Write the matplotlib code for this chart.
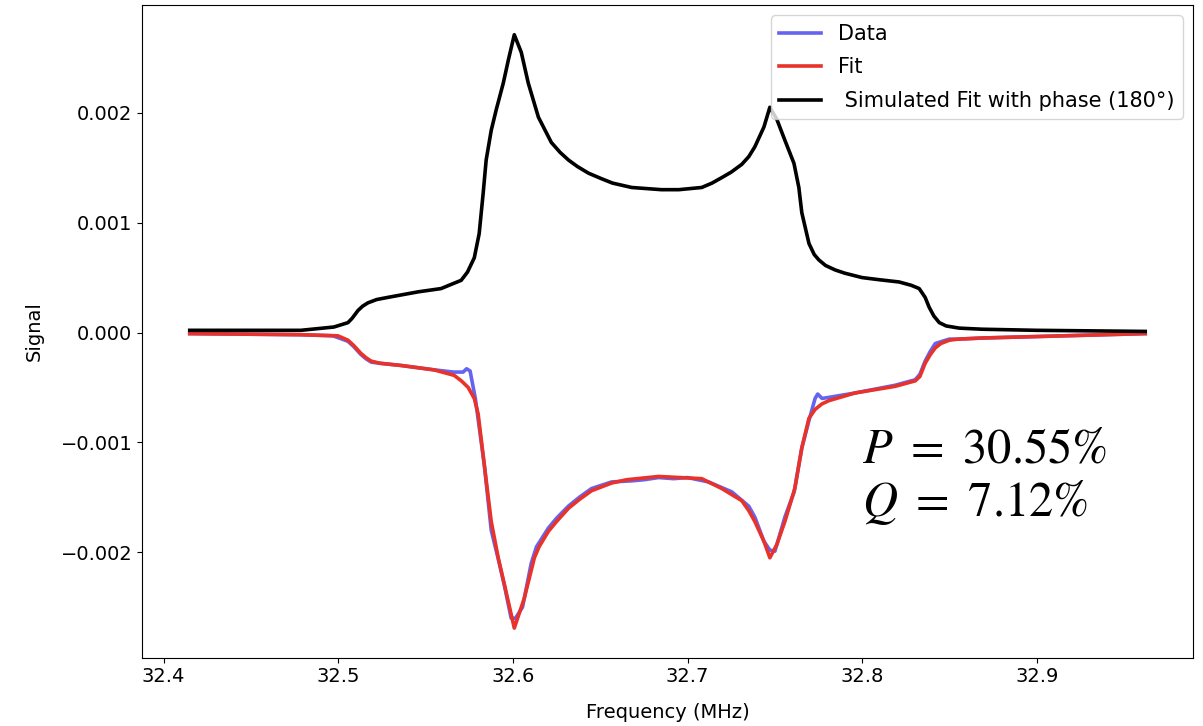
import numpy as np
import matplotlib.pyplot as plt

plt.rcParams['mathtext.fontset'] = 'stix'

# Simulated fit with phase 180 deg (black)
sim_f = [32.415, 32.4786, 32.4975, 32.5056, 32.508, 32.5113, 32.514, 32.5170,
         32.522, 32.5285, 32.5457, 32.5589, 32.565, 32.5704, 32.574, 32.5779,
         32.5807, 32.5830, 32.5847, 32.5876, 32.5905, 32.5945, 32.5974, 32.6008,
         32.6048, 32.6088, 32.6146, 32.6220, 32.627, 32.6318, 32.637, 32.6433,
         32.6507, 32.657, 32.668, 32.685, 32.695, 32.7081, 32.714, 32.7196,
         32.725, 32.7310, 32.735, 32.7385, 32.7437, 32.7471, 32.7511, 32.7557,
         32.7609, 32.7637, 32.7654, 32.7695, 32.7725, 32.7752, 32.779, 32.7844,
         32.790, 32.7999, 32.810, 32.8211, 32.828, 32.8326, 32.836, 32.8383,
         32.841, 32.8441, 32.848, 32.8555, 32.8687, 32.900, 32.962]
sim_s = [0.00002, 0.00002, 0.00005, 0.00009, 0.00013, 0.00020, 0.00024, 0.00027,
         0.00030, 0.00032, 0.00037, 0.00040, 0.00044, 0.000475, 0.00055, 0.00068,
         0.00090, 0.00127, 0.00157, 0.00184, 0.00203, 0.00227, 0.00248, 0.00271,
         0.00255, 0.00227, 0.00196, 0.00173, 0.00164, 0.00157, 0.00151, 0.00145,
         0.00140, 0.00136, 0.00132, 0.00130, 0.00130, 0.00132, 0.00136, 0.00141,
         0.00146, 0.00153, 0.00160, 0.00169, 0.00187, 0.00205, 0.00194, 0.00175,
         0.00154, 0.00132, 0.00109, 0.00081, 0.00071, 0.00066, 0.00061, 0.00057,
         0.00054, 0.00050, 0.00048, 0.00046, 0.00043, 0.00040, 0.00032, 0.00023,
         0.00015, 0.00009, 0.00006, 0.00004, 0.00003, 0.00002, 0.00001]

# Fit (red)
fit_f = [32.415, 32.4786, 32.4998, 32.5056, 32.509, 32.5130, 32.516, 32.5188,
         32.524, 32.5360, 32.5549, 32.5664, 32.5705, 32.5744, 32.5779, 32.5801,
         32.5836, 32.5876, 32.5916, 32.5951, 32.6008, 32.6065, 32.6123, 32.615,
         32.6203, 32.625, 32.6318, 32.638, 32.6450, 32.6565, 32.665, 32.6834,
         32.7081, 32.7196, 32.7310, 32.735, 32.7385, 32.7437, 32.7471, 32.7511,
         32.7557, 32.7614, 32.7654, 32.7695, 32.773, 32.7769, 32.7809, 32.7959,
         32.8188, 32.8303, 32.833, 32.8360, 32.839, 32.8418, 32.845, 32.8498,
         32.855, 32.8687, 32.962]
fit_s = [-0.00001, -0.00002, -0.00003, -0.00007, -0.00012, -0.00019, -0.00023, -0.00026,
         -0.00028, -0.00030, -0.00034, -0.00039, -0.00044, -0.00050, -0.00060, -0.00074,
         -0.00120, -0.00172, -0.00205, -0.00229, -0.00269, -0.00242, -0.00205, -0.00195,
         -0.00181, -0.00172, -0.00160, -0.00152, -0.00144, -0.00137, -0.00134, -0.00131,
         -0.00133, -0.00142, -0.00153, -0.00162, -0.00172, -0.00190, -0.00205, -0.00193,
         -0.00172, -0.00142, -0.00105, -0.00078, -0.00070, -0.00065, -0.00062, -0.00055,
         -0.00049, -0.00044, -0.00040, -0.00028, -0.00020, -0.00014, -0.00010, -0.00007,
         -0.00006, -0.00005, -0.00001]

# Data (blue)
dat_f = [32.415, 32.478, 32.497, 32.5056, 32.509, 32.513, 32.516, 32.519,
         32.524, 32.536, 32.555, 32.566, 32.5715, 32.5735, 32.5755, 32.5785,
         32.5836, 32.5876, 32.5916, 32.5951, 32.599, 32.6015, 32.6055, 32.6105,
         32.6135, 32.6203, 32.625, 32.6318, 32.638, 32.645, 32.6565, 32.668,
         32.675, 32.6834, 32.692, 32.700, 32.712, 32.7253, 32.735, 32.7385,
         32.7437, 32.7471, 32.750, 32.7535, 32.7557, 32.761, 32.7654, 32.7695,
         32.773, 32.7745, 32.777, 32.781, 32.796, 32.8188, 32.8303, 32.833,
         32.836, 32.839, 32.8418, 32.8498, 32.855, 32.8687, 32.962]
dat_s = [-0.00001, -0.00002, -0.00003, -0.00008, -0.00013, -0.00020, -0.00024, -0.00027,
         -0.00028, -0.00030, -0.00034, -0.00036, -0.00036, -0.00033, -0.00035, -0.00060,
         -0.00120, -0.00180, -0.00206, -0.00230, -0.00260, -0.00260, -0.00250, -0.00210,
         -0.00195, -0.00178, -0.00169, -0.00158, -0.00150, -0.00142, -0.00136, -0.00135,
         -0.00134, -0.00132, -0.00133, -0.00132, -0.00136, -0.00145, -0.00158, -0.00168,
         -0.00190, -0.00198, -0.00199, -0.00180, -0.00168, -0.00145, -0.00105, -0.00080,
         -0.00060, -0.00056, -0.00060, -0.00059, -0.00055, -0.00048, -0.00043, -0.00038,
         -0.00026, -0.00017, -0.00010, -0.00006, -0.00006, -0.00005, -0.00001]

fig = plt.figure(figsize=(12.03, 7.26), dpi=100)
ax = fig.add_axes([0.118, 0.094, 0.8737, 0.899])

ax.plot(dat_f, dat_s, color='#6464f0', lw=2.6, label='Data')
ax.plot(fit_f, fit_s, color='#e8322a', lw=2.6, label='Fit')
ax.plot(sim_f, sim_s, color='black', lw=2.6, label=' Simulated Fit with phase (180°)')

ax.set_xlabel('Frequency (MHz)', fontsize=14, labelpad=12)
ax.set_ylabel('Signal', fontsize=14, labelpad=12)
ax.tick_params(labelsize=14)
ax.set_yticks([-0.002, -0.001, 0.0, 0.001, 0.002])
ax.legend(loc='upper right', fontsize=15, labelspacing=0.65)

ax.text(32.8, -0.00118, r'$P\ =\ 30.55\%$', fontsize=35)
ax.text(32.8, -0.00167, r'$Q\ =\ 7.12\%$', fontsize=35)

plt.savefig('out.png', dpi=100)
